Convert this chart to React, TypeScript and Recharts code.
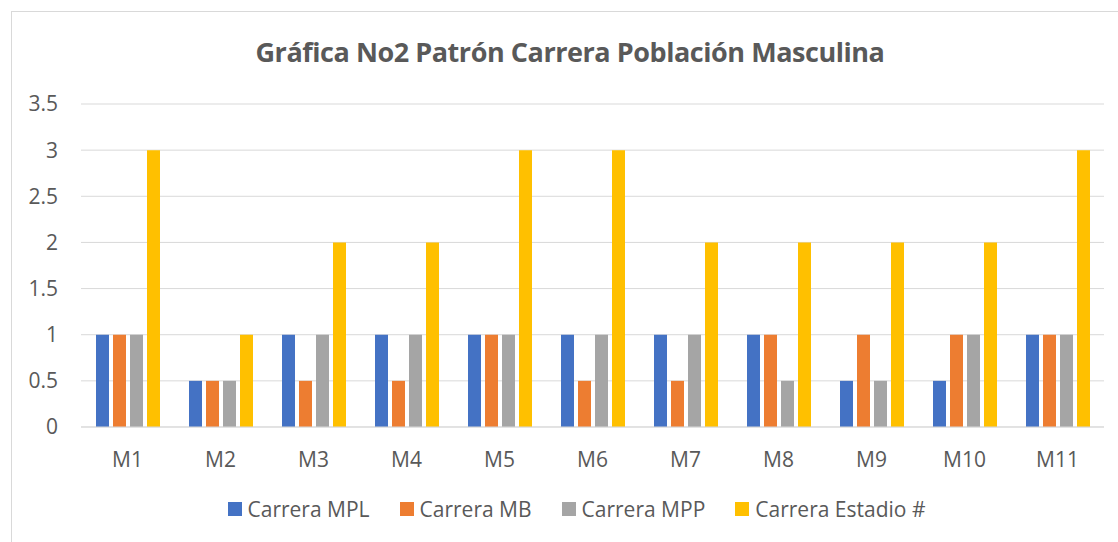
import { Bar, BarChart, CartesianGrid, Legend, XAxis, YAxis } from 'recharts';

const CATEGORIES = ['M1', 'M2', 'M3', 'M4', 'M5', 'M6', 'M7', 'M8', 'M9', 'M10', 'M11'];
const MPL = [1, 0.5, 1, 1, 1, 1, 1, 1, 0.5, 0.5, 1];
const MB = [1, 0.5, 0.5, 0.5, 1, 0.5, 0.5, 1, 1, 1, 1];
const MPP = [1, 0.5, 1, 1, 1, 1, 1, 0.5, 0.5, 1, 1];
const ESTADIO = [3, 1, 2, 2, 3, 3, 2, 2, 2, 2, 3];
const Y_TICKS = [0, 0.5, 1, 1.5, 2, 2.5, 3, 3.5];

const SERIES = [
  { key: 'mpl', name: 'Carrera MPL', color: '#4472C4', values: MPL },
  { key: 'mb', name: 'Carrera MB', color: '#ED7D31', values: MB },
  { key: 'mpp', name: 'Carrera MPP', color: '#A5A5A5', values: MPP },
  { key: 'estadio', name: 'Carrera Estadio #', color: '#FFC000', values: ESTADIO },
];

const data = CATEGORIES.map((cat, i) => {
  const row: Record<string, string | number> = { cat };
  SERIES.forEach((s) => (row[s.key] = s.values[i]));
  return row;
});

const FONT = '"Open Sans", "Liberation Sans", sans-serif';
const TEXT = '#595959';
const GRID = '#D9D9D9';

function LegendContent() {
  return (
    <div style={{ display: 'flex', justifyContent: 'center', alignItems: 'center', fontFamily: FONT, fontSize: 21, color: TEXT }}>
      {SERIES.map((s, i) => (
        <div key={s.key} style={{ display: 'flex', alignItems: 'center', marginLeft: i === 0 ? 0 : 30 }}>
          <span style={{ display: 'inline-block', width: 14, height: 14, background: s.color, marginRight: 6 }} />
          <span>{s.name}</span>
        </div>
      ))}
    </div>
  );
}

export default function App() {
  return (
    <div style={{ position: 'absolute', left: 0, top: 0, width: 1118, height: 542, overflow: 'hidden', background: '#fff' }}>
      <div style={{ position: 'absolute', left: 11, top: 11, width: 1200, height: 600, border: `1px solid ${GRID}` }} />
      <div
        style={{
          position: 'absolute',
          left: 0,
          width: 1140,
          top: 33,
          textAlign: 'center',
          fontFamily: FONT,
          fontWeight: 700,
          fontSize: 27,
          color: TEXT,
          letterSpacing: -0.45,
          whiteSpace: 'nowrap',
        }}
      >
        Gráfica No2 Patrón Carrera Población Masculina
      </div>
      <div style={{ position: 'absolute', left: 0, top: 0 }}>
        <BarChart
          width={1118}
          height={542}
          data={data}
          margin={{ top: 104, right: 14, left: 0, bottom: 0 }}
          barSize={13}
          barGap={4}
        >
          <CartesianGrid stroke={GRID} vertical={false} />
          <XAxis
            dataKey="cat"
            height={115}
            tickLine={false}
            tickSize={0}
            tickMargin={25}
            axisLine={{ stroke: GRID }}
            tick={{ fill: TEXT, fontSize: 21, fontFamily: FONT }}
          />
          <YAxis
            width={81}
            domain={[0, 3.5]}
            ticks={Y_TICKS}
            tickLine={false}
            axisLine={false}
            tickSize={0}
            tickMargin={23}
            tick={{ fill: TEXT, fontSize: 21, fontFamily: FONT }}
          />
          <Legend
            layout="horizontal"
            verticalAlign="middle"
            align="center"
            content={<LegendContent />}
            wrapperStyle={{ left: 0, top: 495, width: 1153, height: 30 }}
          />
          {SERIES.map((s) => (
            <Bar key={s.key} dataKey={s.key} name={s.name} fill={s.color} isAnimationActive={false} />
          ))}
        </BarChart>
      </div>
    </div>
  );
}
